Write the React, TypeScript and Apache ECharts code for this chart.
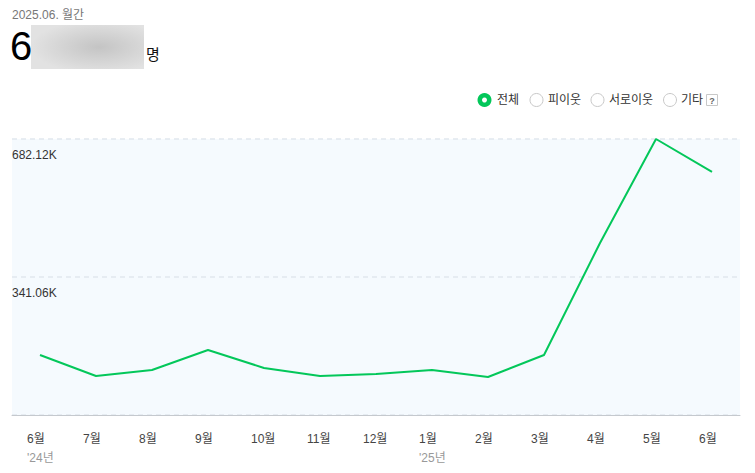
import React, { useEffect, useRef } from "react";
import * as echarts from "echarts";

const months = ["6월", "7월", "8월", "9월", "10월", "11월", "12월", "1월", "2월", "3월", "4월", "5월", "6월"];
const yearTags = ["'24년", "", "", "", "", "", "", "'25년", "", "", "", "", ""];
const visitors = [148300, 96400, 111200, 160600, 116200, 96400, 101300, 111200, 93900, 148300, 425100, 682120, 600600];
const yMax = 682120;
const yStep = 341060;
const legendItems = ["전체", "피이웃", "서로이웃", "기타"];

const FONT = "'Liberation Sans', 'Noto Sans CJK KR', sans-serif";
const GREEN = "#03c75a";

export default function App() {
  const ref = useRef<HTMLDivElement>(null);
  useEffect(() => {
    if (!ref.current) return;
    const chart = echarts.init(ref.current, undefined, { renderer: "svg" });
    const legendX = [484.5, 536.5, 597.5, 670];
    const legendTextX = [497, 548, 609, 681];
    const graphics: any[] = [
      { type: "text", x: 12, y: 15, style: { text: "2025.06. 월간", fill: "#777", font: `12px ${FONT}`, verticalAlign: "middle", lineHeight: 14 } },
      { type: "text", x: 10, y: 46, style: { text: "6", fill: "#000", font: `40px ${FONT}`, verticalAlign: "middle", lineHeight: 38 } },
      {
        type: "rect",
        shape: { x: 31, y: 25, width: 113, height: 44 },
        style: {
          fill: new echarts.graphic.RadialGradient(0.6, 0.5, 0.6, [
            { offset: 0, color: "#c4c4c4" },
            { offset: 1, color: "#e2e2e2" },
          ]),
        },
      },
      { type: "text", x: 146, y: 54, style: { text: "명", fill: "#111", font: `15px ${FONT}`, verticalAlign: "middle" } },
    ];
    legendItems.forEach((name, i) => {
      if (i === 0) {
        graphics.push({ type: "circle", shape: { cx: legendX[i], cy: 100, r: 7 }, style: { fill: GREEN } });
        graphics.push({ type: "circle", shape: { cx: legendX[i], cy: 100, r: 2.5 }, style: { fill: "#fff" } });
      } else {
        graphics.push({ type: "circle", shape: { cx: legendX[i], cy: 100, r: 6.5 }, style: { fill: "#fff", stroke: "#c8c8c8", lineWidth: 1 } });
      }
      graphics.push({
        type: "text",
        x: legendTextX[i],
        y: 100,
        style: { text: name, fill: "#333", font: `12px ${FONT}`, verticalAlign: "middle" },
      });
    });
    graphics.push({ type: "rect", shape: { x: 706.5, y: 94.5, width: 11, height: 11 }, style: { fill: "#fff", stroke: "#c8c8c8", lineWidth: 1 } });
    graphics.push({ type: "text", x: 712, y: 100.5, style: { text: "?", fill: "#666", font: `bold 9px ${FONT}`, align: "center", verticalAlign: "middle" } });

    chart.setOption({
      animation: false,
      textStyle: { fontFamily: FONT },
      graphic: graphics,
      grid: { left: 12, right: 15, top: 139, bottom: 58, show: true, backgroundColor: "#f5fafe", borderWidth: 0 },
      xAxis: {
        type: "category",
        data: months,
        boundaryGap: true,
        axisLine: { show: true, lineStyle: { color: "#c5c9ce", width: 1 } },
        axisTick: { show: false },
        axisLabel: {
          interval: 0,
          margin: 14,
          formatter: (v: string, i: number) => `{m|${v}}\n{y|${yearTags[i] || " "}}`,
          rich: {
            m: { width: 26, align: "left", fontSize: 12, color: "#444", lineHeight: 19, fontFamily: FONT },
            y: { width: 26, align: "left", fontSize: 12, color: "#999", lineHeight: 19, fontFamily: FONT },
          },
        },
      },
      yAxis: {
        type: "value",
        min: 0,
        max: yMax,
        interval: yStep,
        axisLine: { show: false },
        axisTick: { show: false },
        splitLine: { show: true, lineStyle: { color: "#e1e7ee", type: [5, 4], width: 1.5 } },
        axisLabel: {
          inside: true,
          showMinLabel: false,
          align: "left",
          verticalAlign: "top",
          margin: 0,
          padding: [10, 0, 0, 0],
          color: "#333",
          fontSize: 12,
          fontFamily: FONT,
          formatter: (v: number) => (v === 0 ? "" : (v / 1000).toFixed(2) + "K"),
        },
      },
      series: [
        {
          type: "line",
          data: visitors,
          showSymbol: false,
          symbol: "none",
          lineStyle: { color: GREEN, width: 2 },
          itemStyle: { color: GREEN },
        },
      ],
    });
    return () => chart.dispose();
  }, []);
  return <div ref={ref} style={{ width: 755, height: 473, position: "absolute", left: 0, top: 0 }} />;
}
